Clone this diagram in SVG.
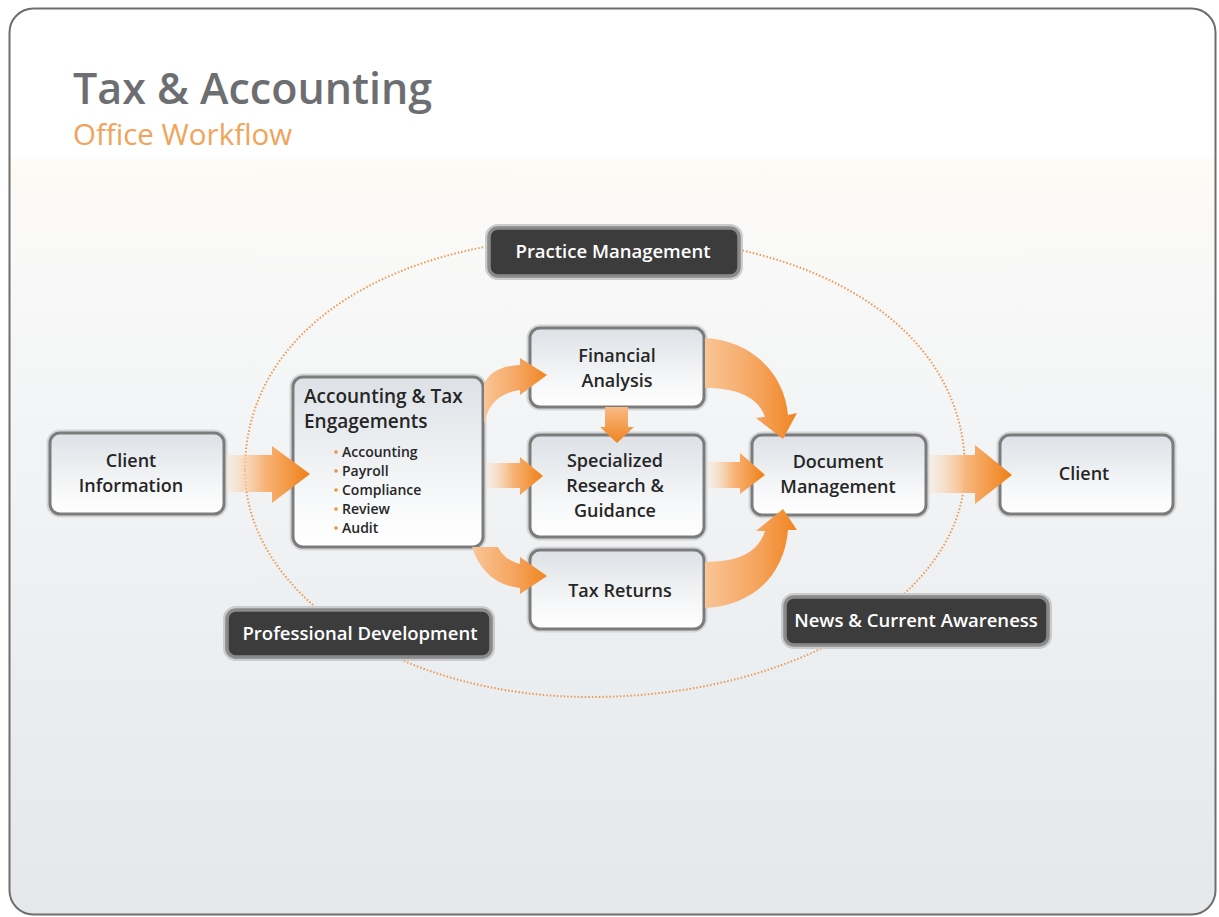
<svg xmlns="http://www.w3.org/2000/svg" width="1219" height="917" viewBox="0 0 1219 917">
<style>
.lbl{font-family:"Open Sans","Liberation Sans",sans-serif;font-weight:600;font-size:18px;fill:#262626;text-anchor:middle}
.bul{font-family:"Open Sans","Liberation Sans",sans-serif;font-weight:600;font-size:14px;fill:#262626}
.dot{fill:#f0903a}
.dk{font-family:"Open Sans","Liberation Sans",sans-serif;font-weight:600;font-size:18.5px;fill:#ffffff;text-anchor:middle}
.node{fill:url(#nodeG);stroke:#7c7c7c;stroke-width:3}
.halo{fill:none;stroke:#d4d6d8;stroke-width:7}
.dark{fill:#3c3c3c;stroke:#8a8a8a;stroke-width:3.5}
.darkhalo{fill:none;stroke:#c9cbcd;stroke-width:8}
</style>
<defs>
<linearGradient id="bgG" x1="0" y1="0" x2="0" y2="917" gradientUnits="userSpaceOnUse">
<stop offset="0" stop-color="#ffffff"/>
<stop offset="0.170" stop-color="#ffffff"/>
<stop offset="0.176" stop-color="#fefaf5"/>
<stop offset="0.27" stop-color="#f9f9f8"/>
<stop offset="0.55" stop-color="#f0f2f4"/>
<stop offset="1" stop-color="#e4e8eb"/>
</linearGradient>
<linearGradient id="nodeG" x1="0" y1="0" x2="0" y2="1">
<stop offset="0" stop-color="#dde1e6"/>
<stop offset="0.7" stop-color="#f7f8f9"/>
<stop offset="1" stop-color="#ffffff"/>
</linearGradient>
<linearGradient id="arrH" x1="0" y1="0" x2="1" y2="0">
<stop offset="0" stop-color="#fbe0c6" stop-opacity="0.3"/>
<stop offset="0.45" stop-color="#f8b57a"/>
<stop offset="1" stop-color="#ef7f16"/>
</linearGradient>
<linearGradient id="arrC" x1="0" y1="0" x2="1" y2="0">
<stop offset="0" stop-color="#f9c596"/>
<stop offset="0.6" stop-color="#f5a25a"/>
<stop offset="1" stop-color="#f08420"/>
</linearGradient>
<linearGradient id="arrV" x1="0" y1="0" x2="0" y2="1">
<stop offset="0" stop-color="#f8bb85"/>
<stop offset="1" stop-color="#f08420"/>
</linearGradient>
</defs>

<rect x="9.5" y="8.5" width="1206" height="906" rx="24" fill="url(#bgG)" stroke="#6e6e6e" stroke-width="2"/>

<g id="title">
<text x="73" y="104" font-family="Open Sans, Liberation Sans, sans-serif" font-weight="600" font-size="43" fill="#6d6e71">Tax &amp; Accounting</text>
<text x="73" y="145" font-family="Open Sans, Liberation Sans, sans-serif" font-size="29.5" fill="#f2a35a">Office Workflow</text>
</g>

<g id="cycle">
<path d="M245,470 C245,330 389,236 605,236 C821,236 965,330 965,470 C965,595 797,697 590,697 C400,697 245,595 245,470 Z" fill="none" stroke="#eb9a55" stroke-width="2" stroke-dasharray="1.5 2"/>
</g>

<g id="n-practice">
<rect x="489" y="228" width="250" height="48" rx="9" class="darkhalo"/>
<rect x="489" y="228" width="250" height="48" rx="9" class="dark"/>
<text x="613" y="258" class="dk">Practice Management</text>
</g>
<g id="n-profdev">
<rect x="227" y="610" width="264" height="47" rx="9" class="darkhalo"/>
<rect x="227" y="610" width="264" height="47" rx="9" class="dark"/>
<text x="360" y="640" class="dk">Professional Development</text>
</g>
<g id="n-news">
<rect x="785" y="597" width="263" height="48" rx="9" class="darkhalo"/>
<rect x="785" y="597" width="263" height="48" rx="9" class="dark"/>
<text x="916" y="627" class="dk">News &amp; Current Awareness</text>
</g>

<g id="n-clientinfo">
<rect x="50" y="433" width="174" height="81" rx="10" class="halo"/>
<rect x="50" y="433" width="174" height="81" rx="10" class="node"/>
<text x="131" y="467" class="lbl">Client</text>
<text x="131" y="492" class="lbl">Information</text>
</g>
<g id="n-engagements">
<rect x="293" y="377" width="190" height="170" rx="10" class="halo"/>
<rect x="293" y="377" width="190" height="170" rx="10" class="node"/>
<text x="304" y="403" class="lbl" style="text-anchor:start;font-size:19px">Accounting &amp; Tax</text>
<text x="304" y="428" class="lbl" style="text-anchor:start;font-size:19px">Engagements</text>
<circle cx="336" cy="452" r="1.8" class="dot"/><text x="342" y="457" class="bul">Accounting</text>
<circle cx="336" cy="471" r="1.8" class="dot"/><text x="342" y="476" class="bul">Payroll</text>
<circle cx="336" cy="490" r="1.8" class="dot"/><text x="342" y="495" class="bul">Compliance</text>
<circle cx="336" cy="509" r="1.8" class="dot"/><text x="342" y="514" class="bul">Review</text>
<circle cx="336" cy="528" r="1.8" class="dot"/><text x="342" y="533" class="bul">Audit</text>
</g>
<g id="n-financial">
<rect x="530" y="328" width="174" height="79" rx="10" class="halo"/>
<rect x="530" y="328" width="174" height="79" rx="10" class="node"/>
<text x="617" y="362" class="lbl">Financial</text>
<text x="617" y="387" class="lbl">Analysis</text>
</g>
<g id="n-research">
<rect x="530" y="435" width="174" height="102" rx="10" class="halo"/>
<rect x="530" y="435" width="174" height="102" rx="10" class="node"/>
<text x="615" y="467" class="lbl">Specialized</text>
<text x="615" y="492" class="lbl">Research &amp;</text>
<text x="615" y="517" class="lbl">Guidance</text>
</g>
<g id="n-taxreturns">
<rect x="530" y="550" width="174" height="79" rx="10" class="halo"/>
<rect x="530" y="550" width="174" height="79" rx="10" class="node"/>
<text x="620" y="597" class="lbl">Tax Returns</text>
</g>
<g id="n-document">
<rect x="752" y="435" width="174" height="80" rx="10" class="halo"/>
<rect x="752" y="435" width="174" height="80" rx="10" class="node"/>
<text x="838" y="468" class="lbl">Document</text>
<text x="838" y="493" class="lbl">Management</text>
</g>
<g id="n-client">
<rect x="1000" y="435" width="173" height="79" rx="10" class="halo"/>
<rect x="1000" y="435" width="173" height="79" rx="10" class="node"/>
<text x="1084" y="480" class="lbl">Client</text>
</g>

<g id="connectors">
<path d="M226,455 L272,455 L272,446 L310,474 L272,503 L272,492 L226,492 Z" fill="url(#arrH)"/>
<path d="M487,463 L520,463 L520,457 L543,476 L520,495 L520,488 L487,488 Z" fill="url(#arrH)"/>
<path d="M484,424 Q490,394 520,390 L520,395 L547,375 L520,358 L520,365 Q492,366 484,384 Z" fill="url(#arrC)"/>
<path d="M472,547 Q484,584 520,588 L520,594 L547,576 L520,557 L520,564 Q504,560 498,547 Z" fill="url(#arrC)"/>
<path d="M605,407 L628,407 L628,427 L634,427 L617,443 L600,427 L605,427 Z" fill="url(#arrV)"/>
<path d="M705,338 C748,340 784,370 788,415 L797,413 L783,439 L756,418 L765,417 C758,396 735,388 705,388 Z" fill="url(#arrC)"/>
<path d="M708,462 L740,462 L740,453 L765,475 L740,494 L740,488 L708,488 Z" fill="url(#arrH)"/>
<path d="M705,608 C750,606 784,578 788,530 L797,530 L783,509 L756,531 L765,531 C758,553 738,562 705,562 Z" fill="url(#arrC)"/>
<path d="M930,455 L975,455 L975,445 L1012,475 L975,504 L975,493 L930,493 Z" fill="url(#arrH)"/>
</g>
</svg>
